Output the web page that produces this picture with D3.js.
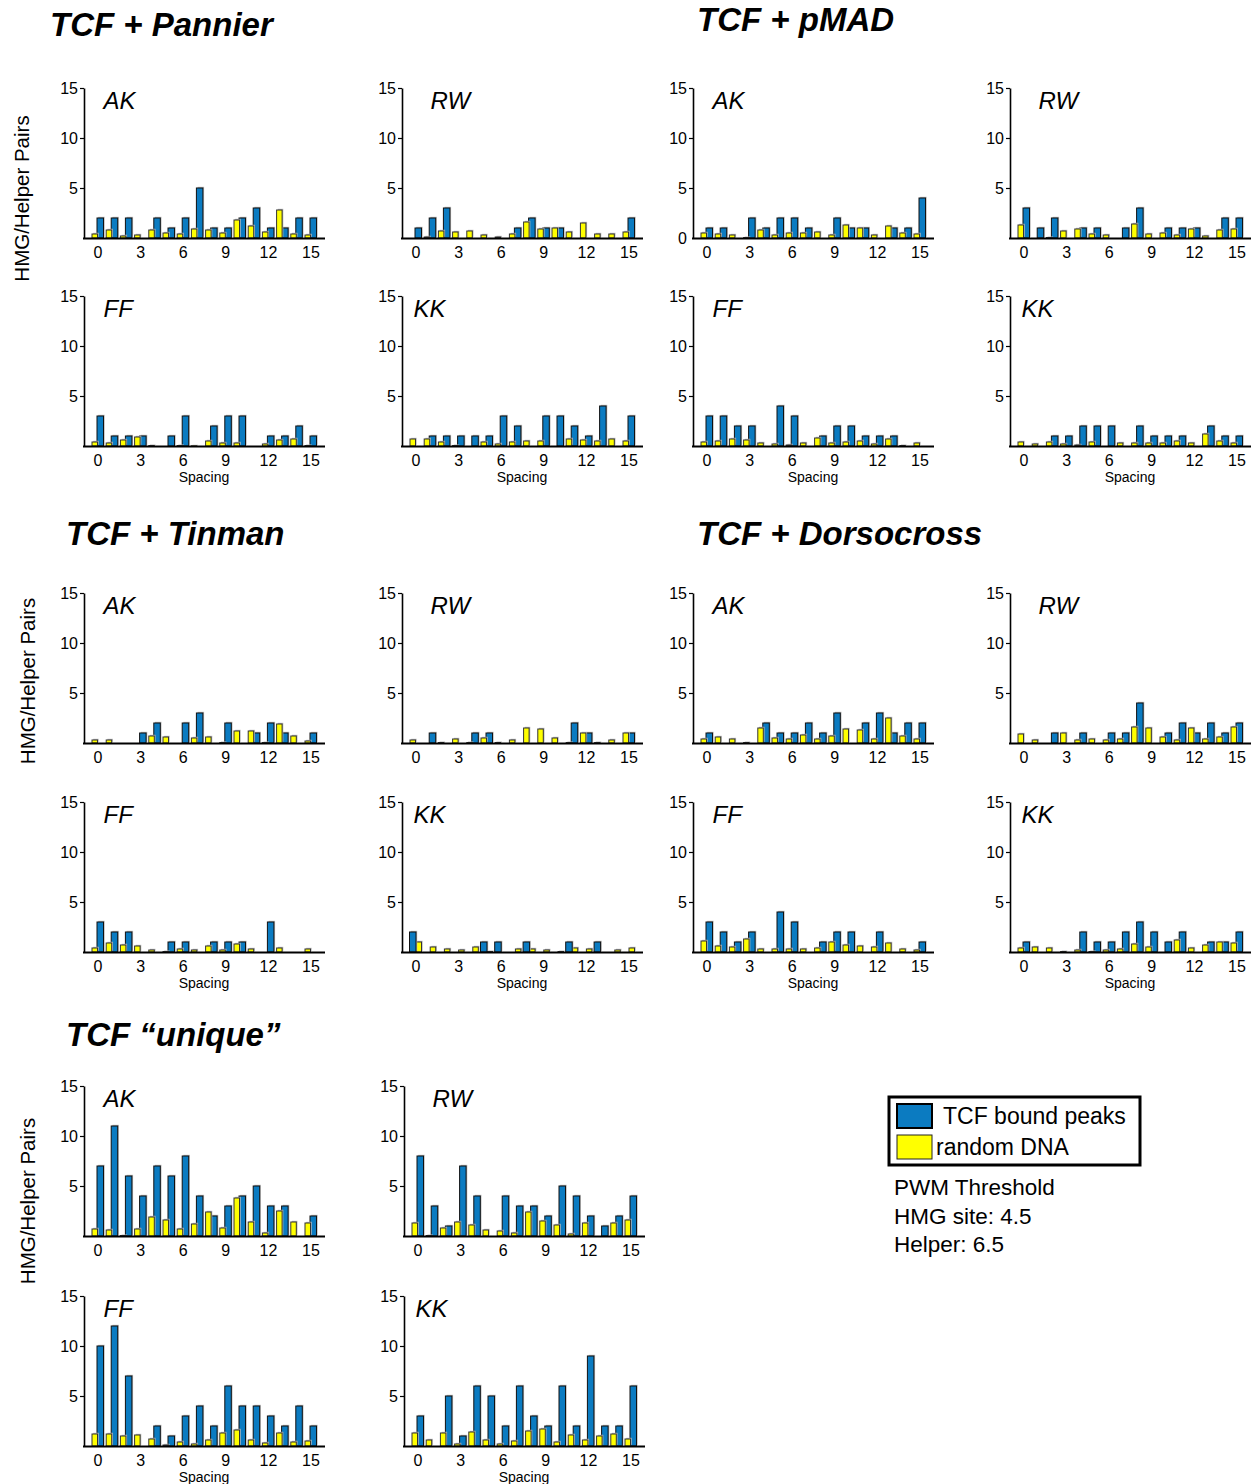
<!DOCTYPE html>
<html>
<head>
<meta charset="utf-8">
<script src="https://cdn.jsdelivr.net/npm/d3@7"></script>
<style>
  html, body { margin: 0; padding: 0; background: #fff; }
  svg { display: block; }
  text { font-family: "Liberation Sans", Arial, sans-serif; fill: #000; }
</style>
</head>
<body>
<svg id="chart" width="1255" height="1484"></svg>
<script>
// ---------- categories / ticks ----------
const spacing = d3.range(0, 16);
const spacingTicks = [0, 3, 6, 9, 12, 15];
const countTicks = [5, 10, 15];

// ---------- TCF + Pannier ----------
const pannierAK_peaks  = [2, 2, 2, 0, 2, 1, 2, 5, 1, 1, 2, 3, 1, 1, 2, 2];
const pannierAK_random = [0.4, 0.8, 0.2, 0.3, 0.8, 0.5, 0.4, 0.9, 0.8, 0.5, 1.8, 1.2, 0.6, 2.8, 0.4, 0.3];
const pannierRW_peaks  = [1, 2, 3, 0, 0, 0, 0, 1, 2, 1, 1, 0, 0, 0, 0, 2];
const pannierRW_random = [0, 0.1, 0.7, 0.6, 0.7, 0.3, 0.1, 0.4, 1.6, 0.9, 1.0, 0.6, 1.5, 0.4, 0.4, 0.6];
const pannierFF_peaks  = [3, 1, 1, 1, 0, 1, 3, 0, 2, 3, 3, 0, 1, 1, 2, 1];
const pannierFF_random = [0.4, 0.3, 0.6, 0.9, 0.05, 0, 0.05, 0.02, 0.5, 0.3, 0.3, 0, 0.2, 0.6, 0.7, 0.05];
const pannierKK_peaks  = [0, 1, 1, 1, 1, 1, 3, 2, 0, 3, 3, 2, 1, 4, 0, 3];
const pannierKK_random = [0.7, 0.7, 0.4, 0.05, 0, 0.4, 0.2, 0.4, 0.5, 0.5, 0, 0.7, 0.6, 0.5, 0.7, 0.5];

// ---------- TCF + pMAD ----------
const pmadAK_peaks  = [1, 1, 0, 2, 1, 2, 2, 1, 0, 2, 1, 1, 0, 1, 1, 4];
const pmadAK_random = [0.5, 0.4, 0.3, 0.05, 0.8, 0.3, 0.5, 0.5, 0.6, 0.3, 1.3, 1.0, 0.3, 1.2, 0.5, 0.4];
const pmadRW_peaks  = [3, 1, 2, 0, 1, 1, 0, 1, 3, 0, 1, 1, 1, 0, 2, 2];
const pmadRW_random = [1.3, 0, 0.05, 0.7, 0.9, 0.4, 0.3, 0, 1.4, 0.4, 0.5, 0.3, 0.9, 0.2, 0.8, 0.9];
const pmadFF_peaks  = [3, 3, 2, 2, 0, 4, 3, 0, 1, 2, 2, 1, 1, 1, 0, 0];
const pmadFF_random = [0.4, 0.5, 0.7, 0.6, 0.3, 0.2, 0.1, 0.3, 0.8, 0.3, 0.4, 0.5, 0.2, 0.7, 0.05, 0.3];
const pmadKK_peaks  = [0, 0, 1, 1, 2, 2, 2, 0, 2, 1, 1, 1, 0, 2, 1, 1];
const pmadKK_random = [0.4, 0.2, 0.4, 0.2, 0.1, 0.4, 0, 0.3, 0.3, 0.3, 0.3, 0.5, 0.3, 1.2, 0.5, 0.3];

// ---------- TCF + Tinman ----------
const tinmanAK_peaks  = [0, 0, 0, 1, 2, 0, 2, 3, 0, 2, 0, 1, 2, 1, 0, 1];
const tinmanAK_random = [0.3, 0.3, 0, 0, 0.7, 0.6, 0, 0.5, 0.6, 0.05, 1.2, 1.2, 0.05, 1.9, 0.7, 0.2];
const tinmanRW_peaks  = [0, 1, 0, 0, 1, 1, 0, 0, 0, 0, 0, 2, 1, 0, 0, 1];
const tinmanRW_random = [0.3, 0, 0.05, 0.4, 0.05, 0.5, 0.05, 0.3, 1.5, 1.4, 0.5, 0.05, 1.0, 0.05, 0.3, 1.0];
const tinmanFF_peaks  = [3, 2, 2, 0, 0, 1, 1, 0, 1, 1, 1, 0, 3, 0, 0, 0];
const tinmanFF_random = [0.4, 0.9, 0.7, 0.6, 0.2, 0.05, 0.3, 0.2, 0.6, 0.2, 0.8, 0.3, 0, 0.4, 0, 0.3];
const tinmanKK_peaks  = [2, 0, 0, 0, 0, 1, 1, 0, 1, 0, 0, 1, 0, 1, 0, 0];
const tinmanKK_random = [1.0, 0.5, 0.3, 0.2, 0.5, 0.05, 0, 0.3, 0.3, 0.2, 0.05, 0.4, 0.3, 0, 0.2, 0.4];

// ---------- TCF + Dorsocross ----------
const dorsoAK_peaks  = [1, 0, 0, 0, 2, 1, 1, 2, 1, 3, 0, 2, 3, 1, 2, 2];
const dorsoAK_random = [0.4, 0.6, 0.4, 0.05, 1.5, 0.5, 0.4, 0.8, 0.4, 0.7, 1.4, 1.3, 0.4, 2.5, 0.7, 0.4];
const dorsoRW_peaks  = [0, 0, 1, 0, 1, 0, 1, 1, 4, 0, 1, 2, 1, 2, 1, 2];
const dorsoRW_random = [0.9, 0.3, 0, 1.0, 0.3, 0.4, 0.3, 0.4, 1.6, 1.5, 0.6, 0.3, 1.5, 0.4, 0.6, 1.6];
const dorsoFF_peaks  = [3, 2, 1, 2, 0, 4, 3, 0, 1, 2, 2, 0, 2, 0, 0, 1];
const dorsoFF_random = [1.1, 0.6, 0.5, 1.3, 0.3, 0.3, 0.3, 0.3, 0.4, 1.0, 0.7, 0.6, 0.5, 0.9, 0.3, 0.2];
const dorsoKK_peaks  = [1, 0, 0, 0, 2, 1, 1, 2, 3, 2, 1, 2, 0, 1, 1, 2];
const dorsoKK_random = [0.4, 0.5, 0.4, 0.05, 0.2, 0.05, 0.2, 0.3, 0.8, 0.5, 0, 1.2, 0.4, 0.7, 1.0, 0.9];

// ---------- TCF "unique" ----------
const uniqueAK_peaks  = [7, 11, 6, 4, 7, 6, 8, 4, 2, 3, 4, 5, 3, 3, 0, 2];
const uniqueAK_random = [0.7, 0.6, 0.05, 0.7, 1.9, 1.6, 0.7, 1.2, 2.4, 0.8, 3.8, 1.4, 0.3, 2.5, 1.4, 1.3];
const uniqueRW_peaks  = [8, 3, 1, 7, 4, 0, 4, 3, 3, 2, 5, 4, 2, 1, 2, 4];
const uniqueRW_random = [1.3, 0.05, 0.8, 1.4, 1.1, 0.6, 0.5, 0.3, 2.4, 1.5, 1.1, 0.2, 1.3, 0, 1.3, 1.6];
const uniqueFF_peaks  = [10, 12, 7, 0, 2, 1, 3, 4, 2, 6, 4, 4, 3, 2, 4, 2];
const uniqueFF_random = [1.2, 1.2, 1.0, 1.1, 0.7, 0.1, 0.4, 0.2, 0.6, 1.3, 1.6, 0.6, 0.3, 1.3, 0.4, 0.5];
const uniqueKK_peaks  = [3, 0, 5, 1, 6, 5, 2, 6, 3, 2, 6, 2, 9, 2, 2, 6];
const uniqueKK_random = [1.3, 0.6, 1.3, 0.2, 1.4, 0.6, 0.2, 0.5, 1.5, 1.7, 0.4, 1.1, 0.6, 1.0, 1.2, 0.7];

// ---------- text ----------
const groupTitles = ["TCF + Pannier", "TCF + pMAD", "TCF + Tinman", "TCF + Dorsocross", "TCF \u201cunique\u201d"];
const yAxisTitle = "HMG/Helper Pairs";
const xAxisTitle = "Spacing";
const legendLabels = ["TCF bound peaks", "random DNA"];
const noteLines = ["PWM Threshold", "HMG site: 4.5", "Helper: 6.5"];

// ---------- panels ----------
const panels = [
  { name: "AK", peaks: pannierAK_peaks, random: pannierAK_random, row: 0, col: 0 },
  { name: "RW", peaks: pannierRW_peaks, random: pannierRW_random, row: 0, col: 1 },
  { name: "FF", peaks: pannierFF_peaks, random: pannierFF_random, row: 1, col: 0 },
  { name: "KK", peaks: pannierKK_peaks, random: pannierKK_random, row: 1, col: 1 },
  { name: "AK", peaks: pmadAK_peaks, random: pmadAK_random, row: 0, col: 2, zeroLabel: true },
  { name: "RW", peaks: pmadRW_peaks, random: pmadRW_random, row: 0, col: 3 },
  { name: "FF", peaks: pmadFF_peaks, random: pmadFF_random, row: 1, col: 2 },
  { name: "KK", peaks: pmadKK_peaks, random: pmadKK_random, row: 1, col: 3 },
  { name: "AK", peaks: tinmanAK_peaks, random: tinmanAK_random, row: 2, col: 0 },
  { name: "RW", peaks: tinmanRW_peaks, random: tinmanRW_random, row: 2, col: 1 },
  { name: "FF", peaks: tinmanFF_peaks, random: tinmanFF_random, row: 3, col: 0 },
  { name: "KK", peaks: tinmanKK_peaks, random: tinmanKK_random, row: 3, col: 1, peaksFirst: true },
  { name: "AK", peaks: dorsoAK_peaks, random: dorsoAK_random, row: 2, col: 2 },
  { name: "RW", peaks: dorsoRW_peaks, random: dorsoRW_random, row: 2, col: 3 },
  { name: "FF", peaks: dorsoFF_peaks, random: dorsoFF_random, row: 3, col: 2 },
  { name: "KK", peaks: dorsoKK_peaks, random: dorsoKK_random, row: 3, col: 3 },
  { name: "AK", peaks: uniqueAK_peaks, random: uniqueAK_random, row: 4, col: 0 },
  { name: "RW", peaks: uniqueRW_peaks, random: uniqueRW_random, row: 4, col: 1 },
  { name: "FF", peaks: uniqueFF_peaks, random: uniqueFF_random, row: 5, col: 0 },
  { name: "KK", peaks: uniqueKK_peaks, random: uniqueKK_random, row: 5, col: 1 }
];

// ---------- layout (style) ----------
const colX = [84, 402, 693, 1010];
const rowTop = [88, 296, 593, 802, 1086, 1296];
const plotH = 150;
const unitW = 14.2;
const firstOffset = 13.5;
const axisLen = 241;
const labelOffset = { AK: 19.5, FF: 19.5, RW: 28.5, KK: 11.5 };
const BLUE = "#0b7bc1";
const YELLOW = "#ffff00";

const svg = d3.select("#chart");
svg.append("rect").attr("width", 1255).attr("height", 1484).attr("fill", "#fff");

panels.forEach(p => {
  const x0 = colX[p.col] + ((p.row >= 4 && p.col === 1) ? 2 : 0);
  const yTop = rowTop[p.row];
  const x = d3.scaleLinear().domain([0, 15]).range([x0 + firstOffset, x0 + firstOffset + 15 * unitW]);
  const y = d3.scaleLinear().domain([0, 15]).range([yTop + plotH, yTop]);
  const g = svg.append("g");

  // y axis
  const yAxis = d3.axisLeft(y).tickValues(p.zeroLabel ? [0, ...countTicks] : countTicks)
    .tickSize(4).tickSizeOuter(0).tickPadding(2);
  const ya = g.append("g").attr("transform", `translate(${x0},0)`).call(yAxis);
  ya.select(".domain").attr("stroke", "#000").attr("stroke-width", 1.6);
  ya.selectAll(".tick line").attr("stroke", "#000").attr("stroke-width", 1.2);
  ya.selectAll(".tick text").attr("font-size", 16).attr("fill", "#000")
    .style("font-family", '"Liberation Sans", Arial, sans-serif');
  if (p.zeroLabel) ya.selectAll(".tick").filter(d => d === 0).select("line").remove();

  // bars
  const yw = 5.5, bw = 6.5;
  const randX = i => p.peaksFirst ? x(i) + 0.5 : x(i) - 5.5;
  const peakX = i => p.peaksFirst ? x(i) - 6 : x(i) - 0.5;

  const drawSeries = (vals, xf, w, fill, stroke) => {
    const sel = g.append("g");
    sel.selectAll("rect.sh").data(spacing.filter(i => vals[i] > 0)).join("rect")
      .attr("class", "sh")
      .attr("x", i => xf(i) + 1.2).attr("y", i => y(vals[i]) - 1.2)
      .attr("width", w).attr("height", i => y(0) - y(vals[i]))
      .attr("fill", "#b8b8b8");
    sel.selectAll("rect.bar").data(spacing.filter(i => vals[i] > 0)).join("rect")
      .attr("class", "bar")
      .attr("x", i => xf(i)).attr("y", i => y(vals[i]))
      .attr("width", w).attr("height", i => Math.max(0.6, y(0) - y(vals[i])))
      .attr("fill", fill).attr("stroke", stroke).attr("stroke-width", 1);
  };
  if (p.peaksFirst) {
    drawSeries(p.random, randX, yw, YELLOW, "#333");
    drawSeries(p.peaks, peakX, bw, BLUE, "#111");
  } else {
    drawSeries(p.peaks, peakX, bw, BLUE, "#111");
    drawSeries(p.random, randX, yw, YELLOW, "#333");
  }

  // x axis line
  g.append("line").attr("x1", x0 - 1).attr("x2", x0 + axisLen)
    .attr("y1", y(0) + 0.5).attr("y2", y(0) + 0.5)
    .attr("stroke", "#000").attr("stroke-width", 2);

  // x tick labels
  const xAxis = d3.axisBottom(x).tickValues(spacingTicks).tickSize(0).tickPadding(9);
  const xa = g.append("g").attr("transform", `translate(0,${y(0)})`).call(xAxis);
  xa.select(".domain").remove();
  xa.selectAll(".tick text").attr("font-size", 16).attr("fill", "#000")
    .style("font-family", '"Liberation Sans", Arial, sans-serif');

  // x title on lower rows
  if (p.row % 2 === 1) {
    g.append("text").attr("x", x(7.5)).attr("y", y(0) + 35.5)
      .attr("text-anchor", "middle").attr("font-size", 14).text(xAxisTitle);
  }

  // panel label
  g.append("text").attr("x", x0 + labelOffset[p.name]).attr("y", yTop + 21)
    .attr("font-size", 24).attr("font-style", "italic").text(p.name);
});

// group titles
const titlePos = [[50, 36], [697, 31], [66, 545], [697, 545], [66, 1046]];
groupTitles.forEach((t, i) => {
  svg.append("text").attr("x", titlePos[i][0]).attr("y", titlePos[i][1])
    .attr("font-size", 33).attr("font-weight", "bold").attr("font-style", "italic").text(t);
});

// y axis titles
[[29, 198.5], [35, 681], [35, 1201]].forEach(([tx, ty]) => {
  svg.append("text").attr("transform", `translate(${tx},${ty}) rotate(-90)`)
    .attr("text-anchor", "middle").attr("font-size", 20.5).text(yAxisTitle);
});

// legend
const lg = svg.append("g");
lg.append("rect").attr("x", 889).attr("y", 1097).attr("width", 251).attr("height", 68)
  .attr("fill", "#fff").attr("stroke", "#000").attr("stroke-width", 3);
lg.append("rect").attr("x", 897).attr("y", 1104).attr("width", 35).attr("height", 24)
  .attr("fill", BLUE).attr("stroke", "#000").attr("stroke-width", 2);
lg.append("rect").attr("x", 897).attr("y", 1135).attr("width", 35).attr("height", 24)
  .attr("fill", YELLOW).attr("stroke", "#222").attr("stroke-width", 1);
lg.append("text").attr("x", 943).attr("y", 1124).attr("font-size", 23).text(legendLabels[0]);
lg.append("text").attr("x", 936).attr("y", 1155).attr("font-size", 23).text(legendLabels[1]);

noteLines.forEach((t, i) => {
  svg.append("text").attr("x", 894).attr("y", 1195 + i * 28.5).attr("font-size", 22.5).text(t);
});
</script>
</body>
</html>
